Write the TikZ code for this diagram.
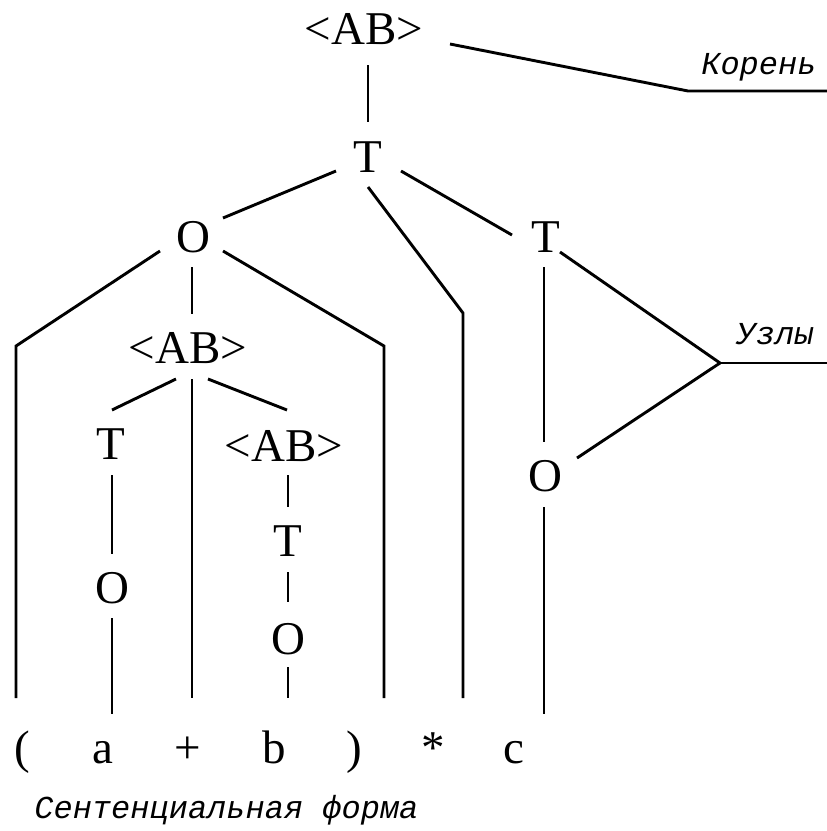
\documentclass[tikz,border=0pt]{standalone}
\usepackage{fontspec}
\setmainfont{Liberation Serif}
\newfontfamily\lmono{Liberation Mono}
\usetikzlibrary{calc}
\begin{document}
\begin{tikzpicture}[x=1pt,y=-1pt,line width=2.9pt,
  sym/.style={font=\fontsize{47}{47}\selectfont,inner sep=0pt,text height=31pt,text depth=0pt},
  lbl/.style={font=\fontsize{32}{32}\selectfont\lmono\itshape,inner sep=0pt}]
\useasboundingbox (0,0) rectangle (827,831);
% tree symbols
\node[sym] (r)   at (364,29)  {<AB>};
\node[sym] (t1)  at (368,157) {T};
\node[sym] (o1)  at (193,237) {O};
\node[sym] (t2)  at (546,237) {T};
\node[sym] (ab2) at (188,348) {<AB>};
\node[sym] (t3)  at (111,444) {T};
\node[sym] (o3)  at (112,588) {O};
\node[sym] (ab3) at (284,446) {<AB>};
\node[sym] (t4)  at (288,541) {T};
\node[sym] (o4)  at (288,639) {O};
\node[sym] (o2)  at (545,476) {O};
% terminals
\node[sym] (lp)   at (22,747.5)  {(};
\node[sym] (a)    at (103,747.5) {a};
\node[sym] (plus) at (188,747.5) {+};
\node[sym] (b)    at (274,747.5) {b};
\node[sym] (rp)   at (354,747.5) {)};
\node[sym] (star) at (433,747.5) {*};
\node[sym] (c)    at (514,747.5) {c};
% labels
\node[lbl,anchor=base east] (kor) at (818,74) {Корень};
\node[lbl,anchor=base east] (uzl) at (815,344) {Узлы};
\node[lbl,anchor=base west] (sf) at (33,818) {Сентенциальная форма};
\coordinate (kb) at (688,91);
\coordinate (ke) at (827,91);
\coordinate (ub) at (720,363);
\coordinate (ue) at (827,363);
% connectors
\draw ($(r)+(4,36)$) -- ($(t1)+(0,-35)$);
\draw ($(r)+(86,15)$) -- (kb) -- (ke);
\draw ($(t1)+(-32,14)$) -- ($(o1)+(30,-19)$);
\draw ($(t1)+(33,14)$) -- ($(t2)+(-34,-2)$);
\draw ($(t1)+(0,30)$) -- ($(star)+(30,-434.5)$) -- ($(star)+(30,-49.5)$);
\draw ($(o1)+(-33,14)$) -- ($(lp)+(-6,-401.5)$) -- ($(lp)+(-6,-49.5)$);
\draw ($(o1)+(-1,30)$) -- ($(ab2)+(4,-34)$);
\draw ($(o1)+(30,14)$) -- ($(rp)+(30,-401.5)$) -- ($(rp)+(30,-49.5)$);
\draw ($(ab2)+(-12,31)$) -- ($(t3)+(1,-34)$);
\draw ($(ab2)+(4,31)$) -- ($(plus)+(4,-49.5)$);
\draw ($(ab2)+(20,31)$) -- ($(ab3)+(3,-36)$);
\draw ($(t3)+(1,31)$) -- ($(o3)+(0,-34)$);
\draw ($(o3)+(0,30)$) -- ($(a)+(9,-33.5)$);
\draw ($(ab3)+(4,29)$) -- ($(t4)+(0,-34)$);
\draw ($(t4)+(0,31)$) -- ($(o4)+(0,-37)$);
\draw ($(o4)+(0,28)$) -- ($(b)+(14,-49.5)$);
\draw ($(t2)+(-2,30)$) -- ($(o2)+(-1,-34)$);
\draw ($(o2)+(-1,31)$) -- ($(c)+(30,-33.5)$);
\draw ($(t2)+(14,15)$) -- (ub);
\draw ($(o2)+(32,-18)$) -- (ub);
\draw (ub) -- (ue);
\end{tikzpicture}
\end{document}
